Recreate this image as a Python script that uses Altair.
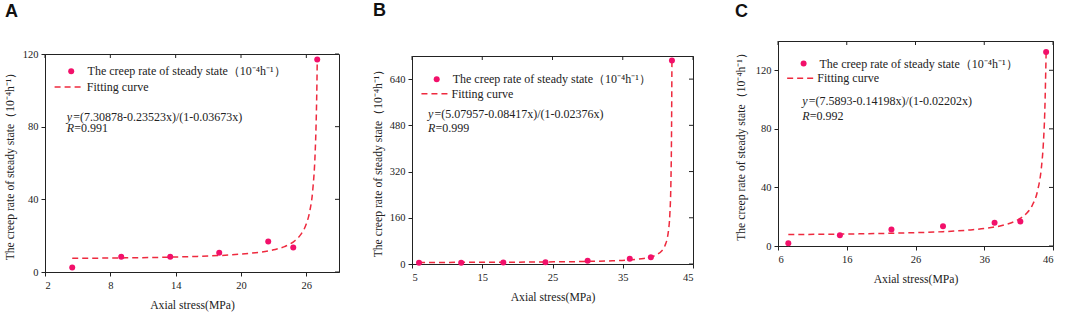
import altair as alt
import pandas as pd

# ---------------- data ----------------
LEGEND_PT = "The creep rate of steady state（10⁻⁴h⁻¹）"
LEGEND_LN = "Fitting curve"
Y_TITLE = "The creep rate of steady state（10⁻⁴h⁻¹）"
X_TITLE = "Axial stress(MPa)"
LETTERS = ["A", "B", "C"]

# Panel A
A_x = [4.5, 9.0, 13.5, 18.0, 22.5, 24.8, 27.0]
A_y = [2.5, 8.4, 8.4, 10.6, 16.8, 13.5, 117.0]
A_fit_x = [4.5, 8, 12, 16, 19, 21, 23, 24, 25, 25.5, 26, 26.3, 26.6, 26.8, 26.9, 26.97, 27.0]
A_fit_y = [7.5, 7.7, 8.0, 8.6, 9.4, 10.4, 12.2, 14.0, 17.5, 20.7, 26.5, 33.0, 45.8, 64.2, 82.0, 102.7, 115.5]
A_xticks = [2, 8, 14, 20, 26]
A_yticks = [0, 40, 80, 120]
A_eq = "=(7.30878-0.23523x)/(1-0.03673x)"
A_R = "=0.991"

# Panel B
B_x = [6, 12, 18, 24, 30, 36, 39, 42]
B_y = [4.0, 4.0, 5.0, 5.8, 11.0, 18.0, 23.0, 704.0]
B_fit_x = [6, 12, 18, 24, 30, 33, 36, 38, 39, 40, 40.5, 41, 41.5, 41.7, 41.85, 41.95, 42.0]
B_fit_y = [5.3, 5.7, 6.2, 7.1, 8.9, 10.7, 14.2, 19.4, 24.5, 34.5, 44.3, 63.0, 113.6, 170.5, 275.9, 473.9, 704.0]
B_xticks = [5, 15, 25, 35, 45]
B_yticks = [0, 160, 320, 480, 640]
B_eq = "=(5.07957-0.08417x)/(1-0.02376x)"
B_R = "=0.999"

# Panel C
C_x = [7.5, 15.0, 22.5, 30.0, 37.5, 41.25, 45.0]
C_y = [1.9, 7.4, 11.2, 13.5, 15.8, 16.7, 132.5]
C_fit_x = [7.5, 12, 18, 24, 30, 34, 37, 39, 41, 42, 43, 43.8, 44.3, 44.6, 44.8, 45.0]
C_fit_y = [7.8, 8.0, 8.3, 8.9, 9.8, 11.0, 12.6, 14.5, 18.2, 21.6, 27.9, 38.6, 53.0, 70.2, 91.0, 131.9]
C_xticks = [6, 16, 26, 36, 46]
C_yticks = [0, 40, 80, 120]
C_eq = "=(7.5893-0.14198x)/(1-0.02202x)"
C_R = "=0.992"

PINK = "#F2106A"
RED = "#EE2A3E"
INK = "#222222"
SERIF = "Liberation Serif"


def panel(letter, xs, ys, fx, fy, xticks, yticks, xdom, ydom, eq, rr,
          W, H, letter_dx, letter_base, gap_h, ytitle_pad, pt_leg, ln_leg, eq_pos, r_pos):
    pts = pd.DataFrame({"x": xs, "y": ys, "series": [LEGEND_PT] * len(xs)})
    fit = pd.DataFrame({"x": fx, "y": fy, "fit": [LEGEND_LN] * len(fx)})
    xs_scale = alt.Scale(domain=xdom, nice=False, zero=False)
    ys_scale = alt.Scale(domain=ydom, nice=False, zero=False)
    xaxis = alt.Axis(values=xticks, format="d", title=X_TITLE, tickSize=4,
                     labelPadding=4, titlePadding=9, grid=False)
    yaxis = alt.Axis(values=yticks, format="d", title=Y_TITLE, tickSize=4,
                     labelPadding=3, titlePadding=ytitle_pad, grid=False)

    line = alt.Chart(fit).mark_line(color=RED, strokeWidth=1.5, interpolate="monotone").encode(
        x=alt.X("x:Q", scale=xs_scale, axis=xaxis),
        y=alt.Y("y:Q", scale=ys_scale, axis=yaxis),
        strokeDash=alt.StrokeDash(
            "fit:N",
            scale=alt.Scale(domain=[LEGEND_LN], range=[[6, 4]]),
            legend=alt.Legend(orient="none", legendX=ln_leg[0], legendY=ln_leg[1],
                              title=None, padding=0, symbolType="stroke",
                              symbolSize=ln_leg[2], symbolStrokeColor=RED,
                              symbolStrokeWidth=1.5, labelOffset=ln_leg[3],
                              labelLimit=400,
                              labelFont=SERIF, labelFontSize=12, labelColor=INK),
        ),
        order="x:Q",
    )
    points = alt.Chart(pts).mark_point(filled=True, size=36, opacity=1).encode(
        x=alt.X("x:Q", scale=xs_scale),
        y=alt.Y("y:Q", scale=ys_scale),
        color=alt.Color(
            "series:N",
            scale=alt.Scale(domain=[LEGEND_PT], range=[PINK]),
            legend=alt.Legend(orient="none", legendX=pt_leg[0], legendY=pt_leg[1],
                              title=None, padding=0, symbolType="circle",
                              symbolSize=36, symbolStrokeWidth=0,
                              labelOffset=pt_leg[2], labelLimit=400, labelFont=SERIF,
                              labelFontSize=12, labelColor=INK),
        ),
    )
    top_ticks = alt.Chart(pd.DataFrame({"t": xticks})).mark_rule(color=INK, strokeWidth=1).encode(
        x=alt.X("t:Q", scale=xs_scale), y=alt.value(0), y2=alt.value(4))
    right_ticks = alt.Chart(pd.DataFrame({"t": yticks})).mark_rule(color=INK, strokeWidth=1).encode(
        y=alt.Y("t:Q", scale=ys_scale), x=alt.value(W), x2=alt.value(W - 4))

    def txt(s, pos, style):
        return alt.Chart(pd.DataFrame({"s": [s]})).mark_text(
            align="left", baseline="middle", font=SERIF, fontSize=12,
            fontStyle=style, color=INK).encode(
            x=alt.value(pos[0]), y=alt.value(pos[1]), text="s:N")

    texts = [
        txt("y", eq_pos, "italic"),
        txt(eq, (eq_pos[0] + 6.5, eq_pos[1]), "normal"),
        txt("R", r_pos, "italic"),
        txt(rr, (r_pos[0] + 7.5, r_pos[1]), "normal"),
    ]

    body = alt.layer(line, points, top_ticks, right_ticks, *texts).properties(width=W, height=H)

    # header strip holding the panel letter; its height sets the panel's vertical offset
    header = alt.Chart(pd.DataFrame({"s": [letter]})).mark_text(
        align="left", baseline="alphabetic", font="Liberation Sans", fontSize=18,
        fontWeight="bold", color="#111111").encode(
        x=alt.value(letter_dx), y=alt.value(letter_base), text="s:N"
    ).properties(width=W, height=gap_h, view=alt.ViewBackground(stroke="transparent"))

    return alt.vconcat(header, body, spacing=0).resolve_scale(
        color="independent", strokeDash="independent")


pA = panel(LETTERS[0], A_x, A_y, A_fit_x, A_fit_y, A_xticks, A_yticks, [2, 29], [0, 120],
           A_eq, A_R, 294, 218, -40, 16, 46, 7,
           (20.2, 11.2, 10.4), (8.4, 18.0, 762, 3.4), (21.7, 62.7), (21.7, 73.7))
pB = panel(LETTERS[1], B_x, B_y, B_fit_x, B_fit_y, B_xticks, B_yticks, [5, 45], [0, 720],
           B_eq, B_R, 281, 208, -39, 15, 53.4, 6,
           (18.7, 17.3, 10.0), (8.3, 23.3, 713, 2.3), (16, 58.3), (16, 71.6))
pC = panel(LETTERS[2], C_x, C_y, C_fit_x, C_fit_y, C_xticks, C_yticks, [6, 46], [0, 140],
           C_eq, C_R, 275, 205, -43, 15.5, 38.4, 9,
           (19.6, 16.6, 9.9), (8, 22.7, 713, 2.3), (24.3, 60), (24.3, 75))

left_pair = alt.hconcat(pA, pB, spacing=31).resolve_scale(
    color="independent", strokeDash="independent", x="independent", y="independent"
)
chart = alt.hconcat(left_pair, pC, spacing=40).resolve_scale(
    color="independent", strokeDash="independent", x="independent", y="independent"
).properties(
    padding={"left": 3, "top": 0, "right": 0, "bottom": 0},
    background="white",
).configure_axis(
    grid=False, domainColor=INK, tickColor=INK, labelColor=INK, titleColor=INK,
    labelFont=SERIF, titleFont=SERIF, labelFontSize=10.5, titleFontSize=11.7,
    titleFontWeight="normal",
).configure_view(stroke=INK, strokeWidth=1)

chart.save("out.html", embed_options={"renderer": "svg", "actions": False})
